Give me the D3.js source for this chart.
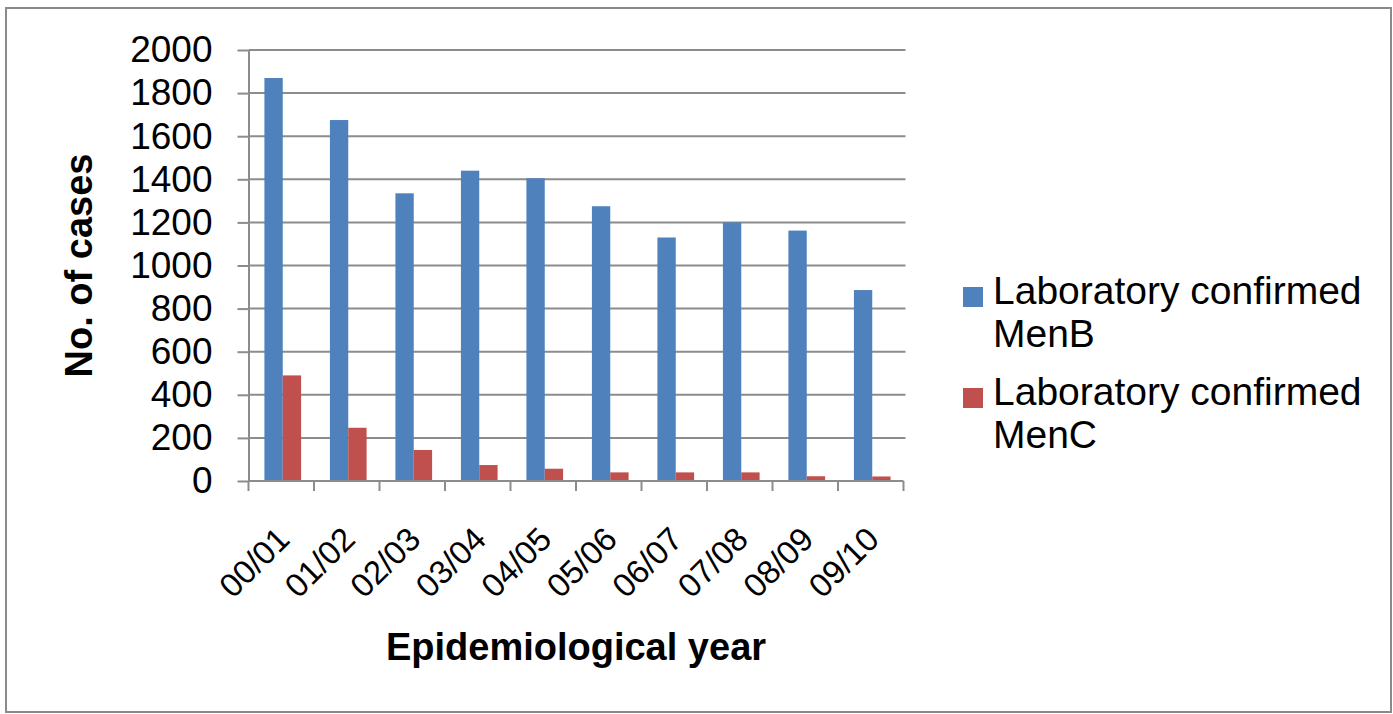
<!DOCTYPE html>
<html>
<head>
<meta charset="utf-8">
<script src="https://cdn.jsdelivr.net/npm/d3@7"></script>
<style>
  html, body { margin: 0; padding: 0; background: #fff; }
  svg { display: block; font-family: "Liberation Sans", Arial, sans-serif; }
</style>
</head>
<body>
<svg id="chart" width="1393" height="714"></svg>
<script>
// Epidemiological years and laboratory confirmed case counts
const years = ["00/01", "01/02", "02/03", "03/04", "04/05", "05/06", "06/07", "07/08", "08/09", "09/10"];
const menB = [1870, 1675, 1335, 1440, 1405, 1275, 1130, 1200, 1162, 886];
const menC = [490, 247, 144, 74, 57, 40, 40, 40, 22, 21];
const seriesNames = ["Laboratory confirmed MenB", "Laboratory confirmed MenC"];
const seriesColors = ["#4F81BD", "#C0504D"];
const yTicks = [0, 200, 400, 600, 800, 1000, 1200, 1400, 1600, 1800, 2000];

const svg = d3.select("#chart");

// outer frame
svg.append("rect")
  .attr("x", 6).attr("y", 8).attr("width", 1385).attr("height", 704)
  .attr("fill", "#fff").attr("stroke", "#8a8a8a").attr("stroke-width", 2);

const plot = { left: 248.5, right: 903.5, top: 50, bottom: 481 };

const x = d3.scaleBand().domain(years).range([plot.left, plot.right])
  .paddingInner(0.44).paddingOuter(0.22);
const xs = d3.scaleBand().domain([0, 1]).range([0, x.bandwidth()]);
const y = d3.scaleLinear().domain([0, 2000]).range([plot.bottom, plot.top]);

// horizontal gridlines
svg.append("g").selectAll("line").data(yTicks.filter(d => d > 0)).join("line")
  .attr("x1", plot.left).attr("x2", plot.right + 2)
  .attr("y1", d => y(d)).attr("y2", d => y(d))
  .attr("stroke", "#8c8c8c").attr("stroke-width", 2);

// bars
const groups = svg.append("g").selectAll("g").data(years).join("g")
  .attr("transform", d => `translate(${x(d) + 1.5},0)`);
[menB, menC].forEach((vals, si) => {
  groups.append("rect")
    .attr("x", xs(si))
    .attr("width", xs.bandwidth())
    .attr("y", (d, i) => y(vals[i]))
    .attr("height", (d, i) => plot.bottom - y(vals[i]))
    .attr("fill", seriesColors[si]);
});

// y axis
const yAxis = svg.append("g")
  .attr("transform", `translate(${plot.left},0)`)
  .call(d3.axisLeft(y).tickValues(yTicks).tickFormat(d3.format("d"))
    .tickSize(11).tickPadding(25).tickSizeOuter(0));
yAxis.select(".domain").attr("stroke", "#8c8c8c").attr("stroke-width", 2);
yAxis.selectAll(".tick line").attr("stroke", "#8c8c8c").attr("stroke-width", 2);
yAxis.selectAll(".tick text").attr("font-size", 37).attr("fill", "#000")
  .attr("font-family", "Liberation Sans, Arial, sans-serif");

// x axis line and tick marks at category boundaries
svg.append("line")
  .attr("x1", plot.left).attr("x2", plot.right)
  .attr("y1", plot.bottom).attr("y2", plot.bottom)
  .attr("stroke", "#8c8c8c").attr("stroke-width", 2);
const step = x.step();
svg.append("g").selectAll("line").data(d3.range(years.length + 1)).join("line")
  .attr("x1", i => plot.left + i * step).attr("x2", i => plot.left + i * step)
  .attr("y1", plot.bottom).attr("y2", plot.bottom + 10)
  .attr("stroke", "#8c8c8c").attr("stroke-width", 2);

// rotated category labels
svg.append("g").selectAll("text").data(years).join("text")
  .attr("transform", d => `translate(${x(d) + x.bandwidth() / 2 + 2},533) rotate(-45)`)
  .attr("text-anchor", "end").attr("dy", "0.35em")
  .attr("font-size", 33).attr("fill", "#000")
  .text(d => d);

// axis titles
svg.append("text")
  .attr("x", (plot.left + plot.right) / 2).attr("y", 660)
  .attr("text-anchor", "middle").attr("font-size", 38).attr("font-weight", "bold")
  .text("Epidemiological year");
svg.append("text")
  .attr("transform", `translate(92,${(plot.top + plot.bottom) / 2}) rotate(-90)`)
  .attr("text-anchor", "middle").attr("font-size", 38).attr("font-weight", "bold")
  .text("No. of cases");

// legend
const legend = svg.append("g").selectAll("g").data(seriesNames).join("g")
  .attr("transform", (d, i) => `translate(963,${287 + i * 101})`);
legend.append("rect").attr("width", 20).attr("height", 20)
  .attr("fill", (d, i) => seriesColors[i]);
const lt = legend.append("text").attr("font-size", 39).attr("fill", "#000");
lt.append("tspan").attr("x", 30).attr("y", 17)
  .text(d => d.split(" ").slice(0, 2).join(" "));
lt.append("tspan").attr("x", 30).attr("y", 60)
  .text(d => d.split(" ").slice(2).join(" "));
</script>
</body>
</html>
